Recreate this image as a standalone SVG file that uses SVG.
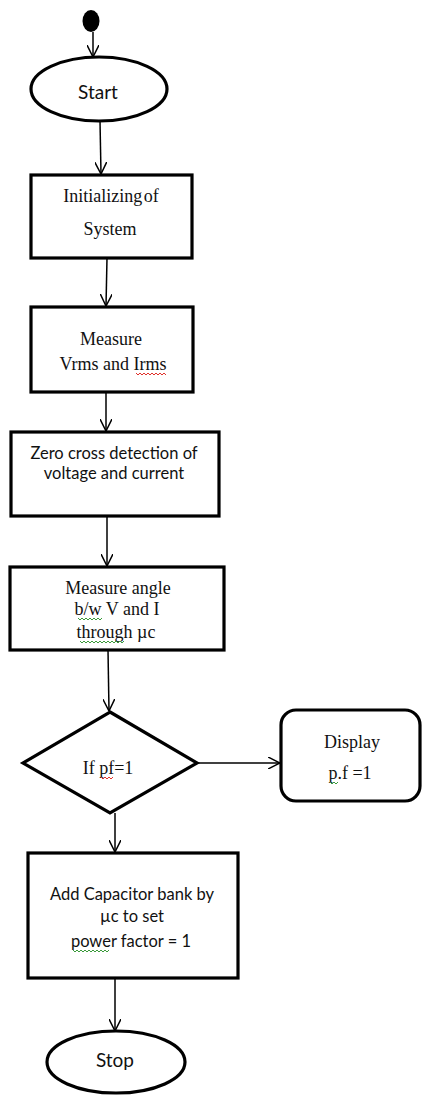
<svg xmlns="http://www.w3.org/2000/svg" width="422" height="1095" viewBox="0 0 422 1095">
<style>
.shape{fill:#fff;stroke:#000;stroke-width:3.2}
.conn{fill:none;stroke:#000;stroke-width:1.5}
.serif{font-family:"Liberation Serif","Times New Roman",serif;font-size:18px;fill:#111;text-anchor:middle}
.sans{font-family:Lato,"Open Sans",sans-serif;font-size:16.5px;fill:#111;text-anchor:middle}
.term{font-family:Lato,"Open Sans",sans-serif;font-size:19px;fill:#111;text-anchor:middle}
.sqr{fill:none;stroke:#e0302a;stroke-width:1}
.sqg{fill:none;stroke:#3a9a3a;stroke-width:1}
</style>
<defs>
<marker id="arrow" viewBox="0 0 12 12" refX="12" refY="6" markerWidth="12" markerHeight="12" orient="auto" markerUnits="userSpaceOnUse">
<path d="M0,0 L12,6 L0,12" fill="none" stroke="#000" stroke-width="1.5"/>
</marker>
</defs>
<g id="connectors">
<path class="conn" d="M93,32 L93,57" marker-end="url(#arrow)"/>
<path class="conn" d="M100,121 L101,174" marker-end="url(#arrow)"/>
<path class="conn" d="M107,258 L106,306" marker-end="url(#arrow)"/>
<path class="conn" d="M106,392 L106,431" marker-end="url(#arrow)"/>
<path class="conn" d="M107,516 L107,566" marker-end="url(#arrow)"/>
<path class="conn" d="M108,650 L109,711" marker-end="url(#arrow)"/>
<path class="conn" d="M197,763 L280,763" marker-end="url(#arrow)"/>
<path class="conn" d="M115,813 L115,852" marker-end="url(#arrow)"/>
<path class="conn" d="M115,978 L115,1031" marker-end="url(#arrow)"/>
</g>
<g id="initial">
<ellipse cx="91" cy="21" rx="8.5" ry="11" fill="#000"/>
</g>
<g id="start">
<ellipse class="shape" cx="99" cy="89" rx="68" ry="32"/>
<text class="term" x="98" y="99">Start</text>
</g>
<g id="init">
<rect class="shape" x="31" y="175" width="161" height="83"/>
<text class="serif" x="111" y="202" word-spacing="-3">Initializing of</text>
<text class="serif" x="110" y="235">System</text>
</g>
<g id="measure">
<rect class="shape" x="31" y="307" width="162" height="85"/>
<text class="serif" x="111" y="345">Measure</text>
<text class="serif" x="113" y="370">Vrms and Irms</text>
<path class="sqr" d="M136,373 l2,2 l2,-2 l2,2 l2,-2 l2,2 l2,-2 l2,2 l2,-2 l2,2 l2,-2 l2,2 l2,-2 l2,2 l2,-2 l2,2"/>
</g>
<g id="zero">
<rect class="shape" x="11" y="432" width="208" height="84"/>
<text class="sans" x="114" y="459">Zero cross detection of</text>
<text class="sans" x="114" y="479">voltage and current</text>
</g>
<g id="angle">
<rect class="shape" x="10" y="567" width="214" height="83"/>
<text class="serif" x="118" y="594">Measure angle</text>
<text class="serif" x="117" y="615">b/w V and I</text>
<text class="serif" x="116" y="638">through µc</text>
<path class="sqg" d="M78,618 l2,2 l2,-2 l2,2 l2,-2 l2,2 l2,-2 l2,2 l2,-2 l2,2 l2,-2 l2,2 l2,-2"/>
<path class="sqg" d="M80,641 l2,2 l2,-2 l2,2 l2,-2 l2,2 l2,-2 l2,2 l2,-2 l2,2 l2,-2 l2,2 l2,-2 l2,2 l2,-2 l2,2 l2,-2 l2,2 l2,-2 l2,2 l2,-2 l2,2 l2,-2"/>
</g>
<g id="decision">
<polygon class="shape" points="110,712 197,763 110,813 23,763"/>
<text class="serif" x="108" y="774">If pf=1</text>
<path class="sqr" d="M101,777 l2,2 l2,-2 l2,2 l2,-2 l2,2 l2,-2"/>
</g>
<g id="display">
<rect class="shape" x="281" y="710" width="139" height="91" rx="15" ry="15"/>
<text class="serif" x="352" y="748">Display</text>
<text class="serif" x="350" y="779">p.f =1</text>
<path class="sqg" d="M330,782 l2,2 l2,-2 l2,2 l2,-2"/>
</g>
<g id="addcap">
<rect class="shape" x="28" y="853" width="210" height="125"/>
<text class="sans" x="132" y="900">Add Capacitor bank by</text>
<text class="sans" x="132" y="922">µc to set</text>
<text class="sans" x="131" y="947">power factor = 1</text>
<path class="sqg" d="M73,950 l2,2 l2,-2 l2,2 l2,-2 l2,2 l2,-2 l2,2 l2,-2 l2,2 l2,-2 l2,2 l2,-2 l2,2 l2,-2 l2,2 l2,-2 l2,2 l2,-2"/>
</g>
<g id="stop">
<ellipse class="shape" cx="116" cy="1062" rx="69" ry="31"/>
<text class="term" x="115" y="1067">Stop</text>
</g>
</svg>
